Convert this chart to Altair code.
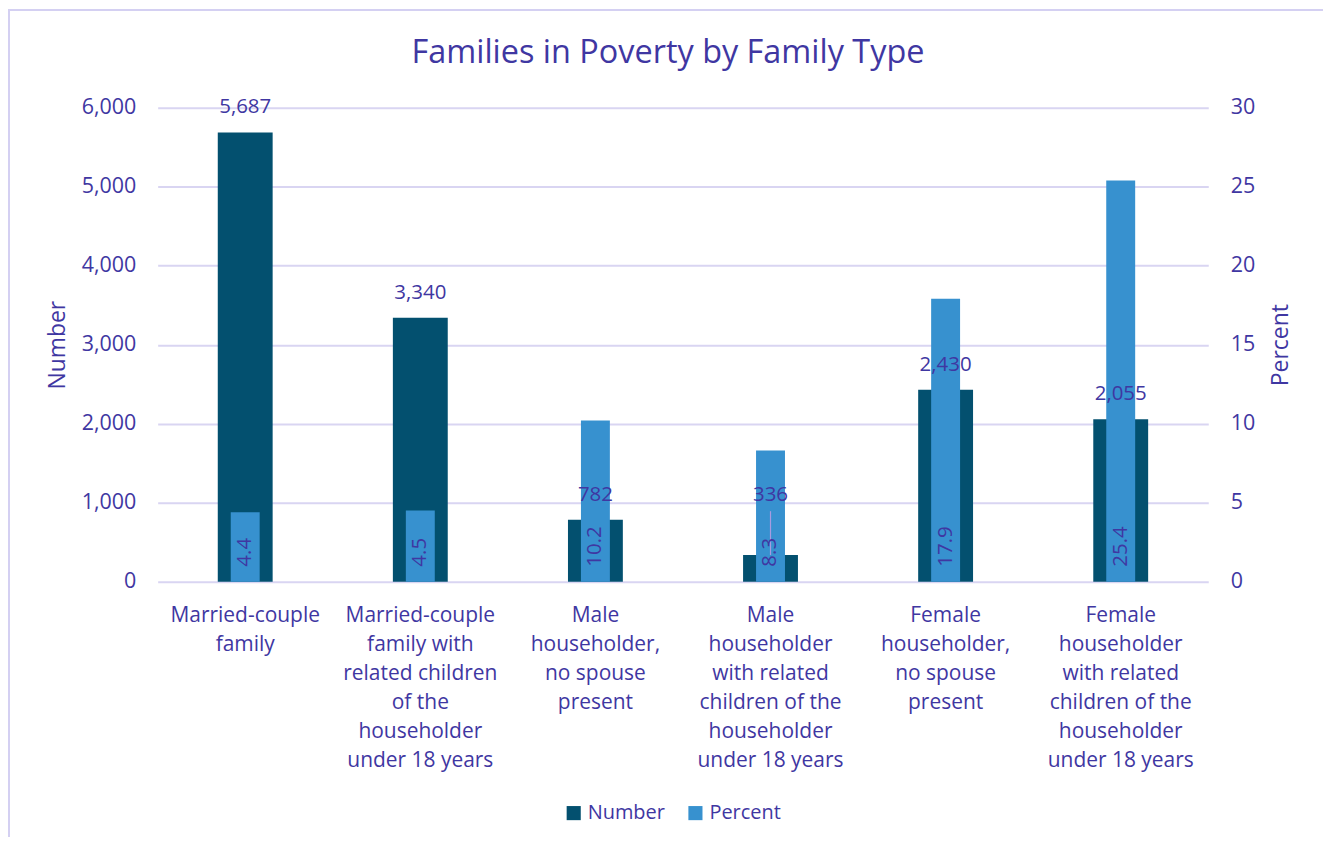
import altair as alt
import pandas as pd

categories = [
    "Married-couple\nfamily",
    "Married-couple\nfamily with\nrelated children\nof the\nhouseholder\nunder 18 years",
    "Male\nhouseholder,\nno spouse\npresent",
    "Male\nhouseholder\nwith related\nchildren of the\nhouseholder\nunder 18 years",
    "Female\nhouseholder,\nno spouse\npresent",
    "Female\nhouseholder\nwith related\nchildren of the\nhouseholder\nunder 18 years",
]
numbers = [5687, 3340, 782, 336, 2430, 2055]
percents = [4.4, 4.5, 10.2, 8.3, 17.9, 25.4]
series_names = ["Number", "Percent"]

df = pd.DataFrame({"Category": categories, "Number": numbers, "Percent": percents})

FONT = "Open Sans"
TXT = "#3f37a2"
GRID = "#d9d5f2"
DARK = "#03506F"
LIGHT = "#3791CF"
W, H = 1053, 475
LABEL_FLOOR = 782  # small-bar labels are lifted to this level (with a leader line)

xenc = alt.X(
    "Category:N",
    sort=categories,
    scale=alt.Scale(paddingInner=0, paddingOuter=0),
    axis=alt.Axis(
        title=None, labelAngle=0, domain=False, ticks=False,
        labelExpr="split(datum.label, '\\n')",
        labelFontSize=21, labelLineHeight=29, labelColor=TXT, labelFont=FONT,
        labelPadding=23, labelBaseline="top",
    ),
)

color_scale = alt.Scale(domain=series_names, range=[DARK, LIGHT])
num_scale = alt.Scale(domain=[0, 6000])

base = alt.Chart(df)

dark = base.transform_calculate(series="'Number'").mark_bar(size=55).encode(
    x=xenc,
    y=alt.Y(
        "Number:Q",
        scale=num_scale,
        axis=alt.Axis(
            orient="left", values=[0, 1000, 2000, 3000, 4000, 5000, 6000], format=",.0f",
            title="Number", titleX=-100, titleY=H / 2, titleAngle=270,
            titleAlign="center", titleBaseline="middle",
            titleFontSize=23, titleFont=FONT, titleColor=TXT, titleFontWeight="normal",
            labelFontSize=21.5, labelFont=FONT, labelColor=TXT, labelPadding=22,
            ticks=False, tickSize=0, domain=False, grid=True, gridColor=GRID, gridWidth=2,
        ),
    ),
    color=alt.Color(
        "series:N", scale=color_scale,
        legend=alt.Legend(
            title=None, orient="none", direction="horizontal", legendX=407, legendY=697,
            symbolType="square", symbolSize=200, symbolStrokeWidth=0,
            labelFontSize=20, labelFont=FONT, labelColor=TXT, labelOffset=4,
            columnPadding=20,
        ),
    ),
)

light = base.transform_calculate(series="'Percent'").mark_bar(size=29).encode(
    x=xenc,
    y=alt.Y(
        "Percent:Q",
        scale=alt.Scale(domain=[0, 30]),
        axis=alt.Axis(
            orient="right", values=[0, 5, 10, 15, 20, 25, 30], format="d",
            title="Percent", titleX=72, titleY=H / 2, titleAngle=270,
            titleAlign="center", titleBaseline="middle",
            titleFontSize=23, titleFont=FONT, titleColor=TXT, titleFontWeight="normal",
            labelFontSize=21.5, labelFont=FONT, labelColor=TXT, labelPadding=22,
            ticks=False, tickSize=0, domain=False, grid=False,
        ),
    ),
    color=alt.Color("series:N", scale=color_scale),
)

leader = base.transform_filter(
    f"datum.Number < {LABEL_FLOOR}"
).transform_calculate(
    top=f"{LABEL_FLOOR} + 110"
).mark_rule(color="#a89be0", strokeWidth=1.2).encode(
    x=xenc,
    y=alt.Y("Number:Q", scale=num_scale, axis=None),
    y2="top:Q",
)

num_text = base.transform_calculate(
    pos=f"max(datum.Number, {LABEL_FLOOR})"
).mark_text(
    fontSize=20.5, font=FONT, color=TXT, baseline="middle", dy=-25
).encode(
    x=xenc,
    y=alt.Y("pos:Q", scale=num_scale, axis=None),
    text=alt.Text("Number:Q", format=","),
)

pct_text = base.mark_text(
    fontSize=20.5, font=FONT, color=TXT, angle=270, align="left", baseline="middle", dx=15
).encode(
    x=xenc,
    y=alt.Y(datum=0, scale=alt.Scale(domain=[0, 30]), axis=None),
    text=alt.Text("Percent:Q", format=".1f"),
)

border = alt.Chart(pd.DataFrame({"k": [0]})).mark_rect(
    fill=None, stroke="#d4d0f2", strokeWidth=2
).encode(
    x=alt.value(-149), x2=alt.value(W + 300),
    y=alt.value(-98), y2=alt.value(H + 400),
)

chart = alt.layer(border, dark, light, leader, num_text, pct_text).resolve_scale(
    y="independent"
).properties(
    width=W, height=H,
    padding={"left": 150, "top": 99, "right": 115, "bottom": 255},
    autosize=alt.AutoSizeParams(type="none"),
    title=alt.TitleParams(
        "Families in Poverty by Family Type", fontSize=32.5, font=FONT, color=TXT,
        fontWeight="normal", anchor="middle", frame="group", dx=-15, offset=-94,
        baseline="bottom",
    ),
).configure_view(stroke=None)

chart.save("out.html", embed_options={"renderer": "svg", "actions": False})
